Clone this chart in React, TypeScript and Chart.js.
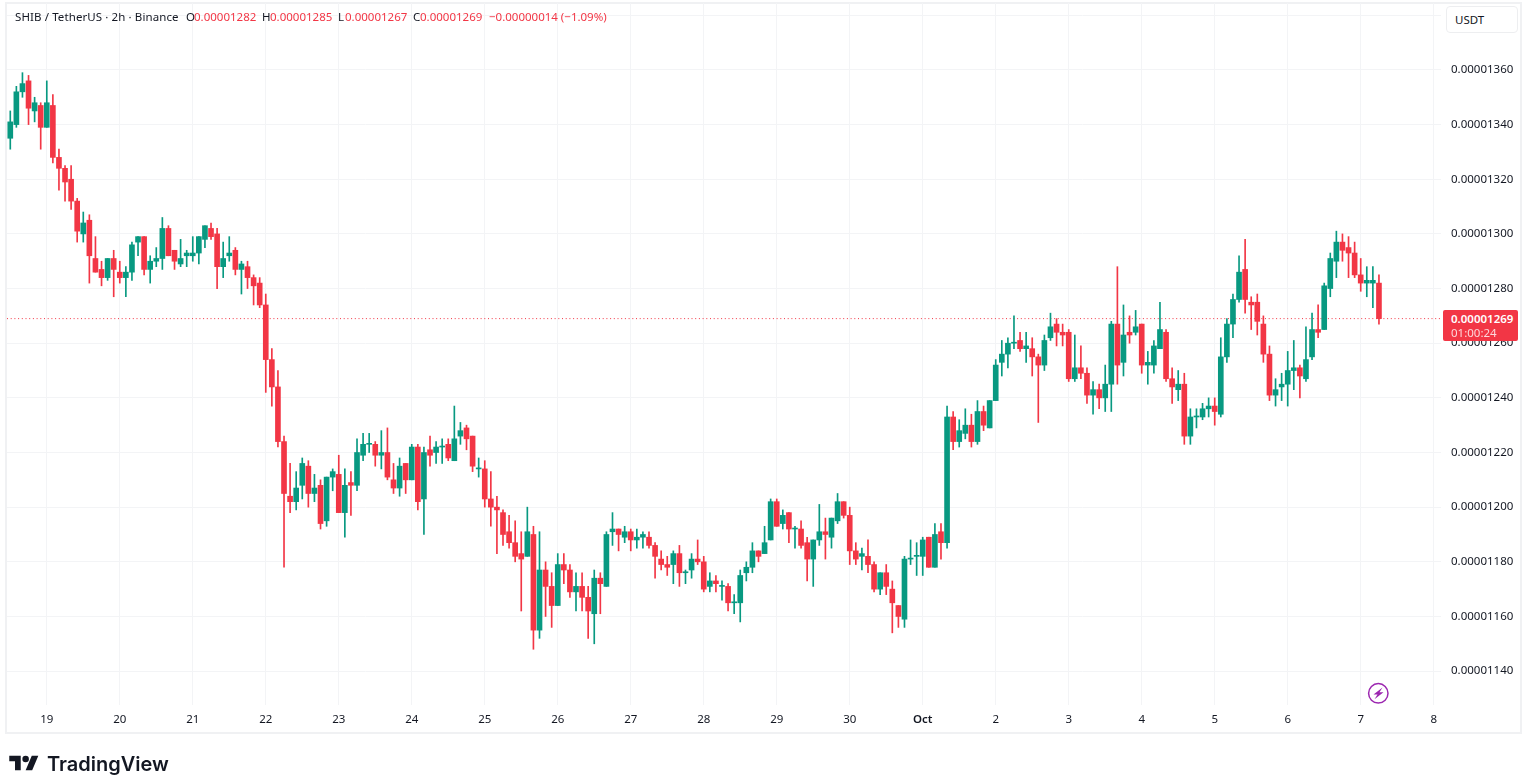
import React, { useEffect, useRef } from "react";
import { Chart, registerables } from "chart.js";

Chart.register(...registerables);

// SHIB/USDT 2h candles, prices in units of 0.00000001 USDT
const opens = [
  1335, 1340, 1352, 1356, 1345, 1347, 1339, 1347, 1328, 1324,
  1320, 1312, 1300, 1305, 1291, 1287, 1284, 1291, 1286, 1284,
  1286, 1297, 1299, 1287, 1290, 1291, 1302, 1294, 1289, 1292,
  1292, 1293, 1298, 1302, 1300, 1288, 1292, 1294, 1287, 1288,
  1284, 1282, 1274, 1254, 1244, 1224, 1204, 1202, 1208, 1215,
  1205, 1208, 1195, 1211, 1212, 1198, 1209, 1208, 1219, 1223,
  1223, 1219, 1220, 1210, 1207, 1216, 1210, 1222, 1203, 1221,
  1220, 1222, 1223, 1217, 1226, 1229, 1226, 1214, 1214, 1203,
  1200, 1198, 1191, 1187, 1183, 1182, 1190, 1155, 1177, 1171,
  1164, 1179, 1177, 1169, 1171, 1167, 1161, 1174, 1171, 1191,
  1192, 1189, 1191, 1188, 1189, 1189, 1186, 1181, 1179, 1179,
  1183, 1176, 1177, 1181, 1180, 1171, 1173, 1171, 1171, 1165,
  1165, 1176, 1178, 1184, 1183, 1188, 1202, 1194, 1198, 1192,
  1192, 1187, 1181, 1188, 1191, 1189, 1195, 1202, 1197, 1184,
  1182, 1182, 1179, 1170, 1176, 1170, 1164, 1159, 1181, 1182,
  1182, 1189, 1178, 1191, 1187, 1233, 1224, 1227, 1230, 1224,
  1235, 1229, 1239, 1253, 1256, 1260, 1261, 1258, 1258, 1255,
  1252, 1262, 1267, 1264, 1264, 1247, 1251, 1249, 1241, 1243,
  1240, 1245, 1267, 1253, 1264, 1264, 1267, 1252, 1252, 1258,
  1264, 1247, 1243, 1245, 1226, 1233, 1233, 1236, 1237, 1234,
  1255, 1267, 1276, 1287, 1275, 1275, 1267, 1256, 1241, 1244,
  1245, 1250, 1251, 1247, 1255, 1265, 1265, 1280, 1290, 1297,
  1295, 1293, 1285, 1282, 1282, 1282,
];

const highs = [
  1345, 1354, 1359, 1358, 1350, 1348, 1356, 1351, 1331, 1325,
  1325, 1313, 1308, 1307, 1299, 1290, 1291, 1294, 1290, 1288,
  1297, 1299, 1299, 1292, 1295, 1306, 1303, 1294, 1298, 1294,
  1299, 1299, 1303, 1304, 1302, 1297, 1299, 1295, 1290, 1290,
  1285, 1284, 1278, 1258, 1250, 1226, 1216, 1213, 1218, 1217,
  1212, 1210, 1211, 1214, 1219, 1214, 1213, 1225, 1227, 1227,
  1224, 1228, 1229, 1216, 1218, 1216, 1223, 1223, 1222, 1226,
  1224, 1225, 1225, 1237, 1231, 1230, 1226, 1218, 1217, 1213,
  1204, 1199, 1197, 1195, 1191, 1200, 1193, 1191, 1180, 1176,
  1183, 1183, 1179, 1176, 1176, 1171, 1177, 1176, 1191, 1198,
  1192, 1193, 1192, 1192, 1191, 1191, 1187, 1184, 1182, 1184,
  1186, 1177, 1183, 1188, 1182, 1176, 1175, 1173, 1172, 1168,
  1177, 1180, 1187, 1184, 1193, 1203, 1203, 1199, 1198, 1193,
  1195, 1189, 1188, 1201, 1196, 1196, 1205, 1202, 1200, 1187,
  1185, 1188, 1180, 1176, 1179, 1173, 1164, 1182, 1188, 1187,
  1189, 1189, 1194, 1194, 1237, 1235, 1232, 1236, 1234, 1239,
  1237, 1239, 1254, 1261, 1262, 1270, 1264, 1264, 1262, 1256,
  1263, 1271, 1269, 1267, 1265, 1263, 1259, 1251, 1246, 1245,
  1252, 1268, 1288, 1274, 1270, 1272, 1267, 1257, 1261, 1275,
  1265, 1251, 1250, 1249, 1236, 1236, 1238, 1240, 1240, 1262,
  1269, 1278, 1292, 1298, 1277, 1278, 1270, 1259, 1247, 1249,
  1257, 1261, 1252, 1266, 1271, 1274, 1282, 1293, 1301, 1300,
  1299, 1297, 1291, 1288, 1288, 1285,
];

const lows = [
  1331, 1339, 1350, 1340, 1341, 1331, 1339, 1326, 1316, 1312,
  1309, 1297, 1297, 1282, 1286, 1281, 1283, 1277, 1282, 1277,
  1283, 1292, 1285, 1282, 1288, 1287, 1292, 1287, 1288, 1288,
  1290, 1289, 1295, 1298, 1280, 1284, 1290, 1285, 1278, 1280,
  1274, 1273, 1242, 1237, 1222, 1178, 1198, 1199, 1203, 1200,
  1202, 1192, 1193, 1206, 1198, 1189, 1197, 1206, 1217, 1220,
  1215, 1214, 1210, 1205, 1204, 1205, 1210, 1199, 1190, 1215,
  1216, 1216, 1217, 1217, 1223, 1221, 1213, 1211, 1200, 1193,
  1183, 1186, 1185, 1180, 1162, 1182, 1148, 1152, 1160, 1156,
  1164, 1172, 1167, 1162, 1162, 1152, 1150, 1161, 1171, 1186,
  1184, 1187, 1184, 1185, 1185, 1185, 1174, 1177, 1175, 1172,
  1171, 1172, 1174, 1179, 1169, 1169, 1169, 1166, 1162, 1161,
  1158, 1173, 1176, 1180, 1183, 1188, 1193, 1192, 1187, 1185,
  1185, 1173, 1171, 1186, 1181, 1185, 1194, 1196, 1179, 1179,
  1177, 1176, 1169, 1168, 1168, 1154, 1156, 1156, 1179, 1175,
  1175, 1178, 1178, 1181, 1185, 1221, 1222, 1225, 1222, 1223,
  1228, 1229, 1239, 1248, 1251, 1258, 1257, 1253, 1248, 1231,
  1250, 1261, 1259, 1259, 1246, 1246, 1247, 1238, 1234, 1236,
  1235, 1235, 1245, 1248, 1260, 1263, 1249, 1245, 1249, 1258,
  1246, 1238, 1239, 1223, 1223, 1229, 1232, 1233, 1230, 1233,
  1253, 1262, 1275, 1271, 1265, 1263, 1253, 1239, 1237, 1239,
  1237, 1243, 1240, 1246, 1254, 1262, 1265, 1277, 1284, 1290,
  1284, 1284, 1279, 1277, 1273, 1267,
];

const closes = [
  1341, 1352, 1355, 1346, 1348, 1339, 1348, 1328, 1324, 1319,
  1312, 1301, 1304, 1292, 1286, 1284, 1291, 1287, 1284, 1286,
  1296, 1299, 1287, 1290, 1291, 1302, 1292, 1290, 1291, 1293,
  1293, 1299, 1303, 1299, 1288, 1291, 1293, 1287, 1289, 1284,
  1281, 1274, 1254, 1244, 1224, 1205, 1202, 1207, 1216, 1205,
  1207, 1194, 1211, 1213, 1198, 1208, 1208, 1220, 1223, 1223,
  1219, 1220, 1211, 1207, 1215, 1210, 1222, 1202, 1220, 1219,
  1222, 1222, 1218, 1225, 1228, 1225, 1215, 1214, 1203, 1200,
  1199, 1190, 1187, 1182, 1181, 1191, 1155, 1177, 1171, 1164,
  1179, 1177, 1169, 1171, 1167, 1162, 1174, 1172, 1190, 1192,
  1190, 1191, 1188, 1189, 1190, 1186, 1182, 1179, 1178, 1183,
  1176, 1176, 1181, 1180, 1170, 1173, 1172, 1171, 1165, 1165,
  1175, 1178, 1184, 1182, 1187, 1202, 1193, 1197, 1192, 1192,
  1186, 1181, 1188, 1191, 1190, 1196, 1202, 1197, 1184, 1181,
  1183, 1179, 1170, 1176, 1171, 1165, 1160, 1181, 1181, 1182,
  1188, 1178, 1190, 1187, 1233, 1224, 1228, 1230, 1224, 1235,
  1230, 1239, 1252, 1256, 1260, 1260, 1258, 1259, 1255, 1252,
  1261, 1266, 1264, 1263, 1247, 1251, 1249, 1241, 1243, 1240,
  1245, 1267, 1252, 1263, 1263, 1266, 1252, 1253, 1259, 1265,
  1247, 1244, 1245, 1226, 1233, 1233, 1236, 1237, 1235, 1255,
  1267, 1276, 1286, 1276, 1274, 1268, 1256, 1241, 1243, 1245,
  1250, 1251, 1248, 1254, 1265, 1264, 1281, 1291, 1297, 1294,
  1293, 1285, 1282, 1283, 1283, 1269,
];

const dayLabels = ["19", "20", "21", "22", "23", "24", "25", "26", "27", "28", "29", "30", "Oct", "2", "3", "4", "5", "6", "7", "8"];
const priceTicks = [1140, 1160, 1180, 1200, 1220, 1240, 1260, 1280, 1300, 1320, 1340, 1360, 1380];
const lastPrice = 1269;

const UP = "#089981";
const DOWN = "#F23645";
const TEXT = "#131722";
const GRID = "#F3F4F6";
const FONT = '"Noto Sans", sans-serif';

// the x axis counts candles; first day tick is the 7th candle, 12 candles a day
const X_MIN = -0.54;
const X_MAX = 235.2;
const dayTicks = dayLabels.map((_, k) => 6 + 12 * k);

const legendParts = [
  { left: 186, text: "O", color: TEXT },
  { left: 194, text: "0.00001282", color: DOWN },
  { left: 262, text: "H", color: TEXT },
  { left: 270, text: "0.00001285", color: DOWN },
  { left: 338, text: "L", color: TEXT },
  { left: 345, text: "0.00001267", color: DOWN },
  { left: 413, text: "C", color: TEXT },
  { left: 420, text: "0.00001269", color: DOWN },
  { left: 489, text: "\u22120.00000014 (\u22121.09%)", color: DOWN },
];

const framePlugin = {
  id: "frame",
  beforeDraw(chart: any) {
    const { ctx } = chart;
    ctx.save();
    ctx.strokeStyle = "#F0F1F3";
    ctx.lineWidth = 2;
    ctx.strokeRect(6, 3, 1515, 730);
    ctx.restore();
  },
};

const App: React.FC = () => {
  const canvasRef = useRef<HTMLCanvasElement | null>(null);

  useEffect(() => {
    if (!canvasRef.current) return;
    const colors = closes.map((c, i) => (c >= opens[i] ? UP : DOWN));

    const chart = new Chart(canvasRef.current, {
      type: "bar",
      data: {
        datasets: [
          {
            type: "line",
            data: [
              { x: X_MIN, y: lastPrice },
              { x: X_MAX, y: lastPrice },
            ],
            borderColor: DOWN,
            borderWidth: 1,
            borderDash: [1, 2.7],
            pointRadius: 0,
            order: 3,
          },
          {
            data: lows.map((l, i) => ({ x: i, y: [l, highs[i]] })),
            backgroundColor: colors,
            barThickness: 1,
            grouped: false,
            order: 2,
          },
          {
            data: opens.map((o, i) => ({ x: i, y: [o, closes[i]] })),
            backgroundColor: colors,
            barThickness: 5,
            minBarLength: 1,
            grouped: false,
            order: 1,
          },
        ] as any,
      },
      options: {
        responsive: false,
        animation: false,
        devicePixelRatio: 1,
        events: [],
        layout: { padding: { left: 7, top: 3, right: 0, bottom: 0 } },
        plugins: { legend: { display: false }, tooltip: { enabled: false } },
        scales: {
          x: {
            type: "linear",
            offset: false,
            min: X_MIN,
            max: X_MAX,
            grid: { color: GRID, offset: false, drawTicks: false },
            border: { display: false },
            afterBuildTicks: (scale: any) => {
              scale.ticks = dayTicks.map((value) => ({ value }));
            },
            afterFit: (scale: any) => {
              scale.height = 70;
              scale.paddingLeft = 0;
              scale.paddingRight = 0;
            },
            ticks: {
              autoSkip: false,
              maxRotation: 0,
              padding: 8,
              color: TEXT,
              font: (ctx: any) => ({
                family: FONT,
                size: 11.5,
                weight: ctx.tick && ctx.tick.label === "Oct" ? "600" : "400",
              }),
              callback: (value: any) => dayLabels[dayTicks.indexOf(value)],
            },
          },
          y: {
            position: "right",
            min: 1127.6,
            max: 1384.5,
            grid: { color: GRID, drawTicks: false },
            border: { display: false },
            afterBuildTicks: (scale: any) => {
              scale.ticks = priceTicks.map((value) => ({ value }));
            },
            afterFit: (scale: any) => {
              scale.width = 83;
              scale.paddingTop = 0;
              scale.paddingBottom = 0;
            },
            ticks: {
              padding: 10,
              color: TEXT,
              font: { family: FONT, size: 11.5 },
              // the top tick sits behind the USDT button
              callback: (value: any) => (value === 1380 ? "" : (value / 1e8).toFixed(8)),
            },
          },
        },
      },
      plugins: [framePlugin],
    } as any);

    return () => chart.destroy();
  }, []);

  const textStyle: React.CSSProperties = {
    position: "absolute",
    fontFamily: FONT,
    fontSize: 11.5,
    lineHeight: "16px",
    whiteSpace: "nowrap",
  };

  return (
    <div style={{ position: "fixed", inset: 0, background: "#fff", overflow: "hidden" }}>
      <canvas ref={canvasRef} width={1524} height={775} style={{ display: "block", width: 1524, height: 775 }} />

      <span style={{ ...textStyle, left: 15, top: 9, color: TEXT, letterSpacing: 0.1 }}>{"SHIB / TetherUS \u00b7 2h \u00b7 Binance"}</span>
      {legendParts.map((p) => (
        <span key={p.left} style={{ ...textStyle, left: p.left, top: 9, color: p.color }}>
          {p.text}
        </span>
      ))}

      <div
        style={{
          ...textStyle,
          left: 1446,
          top: 6,
          width: 72,
          height: 27,
          boxSizing: "border-box",
          border: "1px solid #EDEEF0",
          borderRadius: 4,
          background: "#fff",
          color: TEXT,
          lineHeight: "25px",
          paddingLeft: 8,
        }}
      >
        USDT
      </div>

      <div
        style={{
          ...textStyle,
          left: 1443,
          top: 310,
          width: 75,
          height: 31,
          background: DOWN,
          borderRadius: 2,
          color: "#fff",
          paddingLeft: 8,
          boxSizing: "border-box",
          lineHeight: "14px",
          paddingTop: 2,
        }}
      >
        <div style={{ fontWeight: 600 }}>0.00001269</div>
        <div style={{ opacity: 0.8 }}>01:00:24</div>
      </div>

      <svg style={{ position: "absolute", left: 1367, top: 682 }} width="23" height="23" viewBox="0 0 23 23">
        <circle cx="11.3" cy="11.3" r="9.7" fill="#fff" stroke="#9C27B0" strokeWidth="1.5" />
        <path d="M15.5 5.5 L6.5 12.5 L10.5 12.5 L7.5 17.2 L16.5 10.2 L12.5 10.2 Z" fill="#9C27B0" />
      </svg>

      <svg style={{ position: "absolute", left: 9, top: 754 }} width="30" height="18" viewBox="0 2 36 22" fill="#131722">
        <path d="M14 22H7V11H0V4h14v18zM28 22h-8l7.5-18h8L28 22z" />
        <circle cx="20" cy="8" r="4" />
      </svg>
      <span
        style={{
          position: "absolute",
          left: 47,
          top: 750,
          fontFamily: "Inter, sans-serif",
          fontWeight: 600,
          fontSize: 20,
          lineHeight: "28px",
          color: "#131722",
          whiteSpace: "nowrap",
        }}
      >
        TradingView
      </span>
    </div>
  );
};

export default App;
